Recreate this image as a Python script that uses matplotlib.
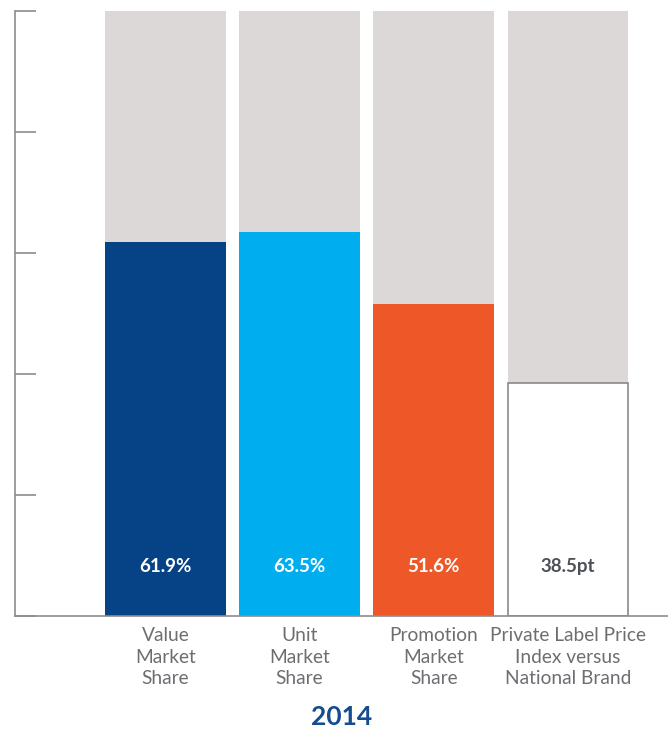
import matplotlib
matplotlib.use("Agg")
import matplotlib.pyplot as plt

categories = ["Value\nMarket\nShare", "Unit\nMarket\nShare", "Promotion\nMarket\nShare",
              "Private Label Price\nIndex versus\nNational Brand"]
values = [61.9, 63.5, 51.6, 38.5]
value_labels = ["61.9%", "63.5%", "51.6%", "38.5pt"]
total = [100, 100, 100, 100]
year_label = "2014"

colors = ["#064386", "#00adee", "#ee5828", "#ffffff"]
text_colors = ["#ffffff", "#ffffff", "#ffffff", "#4d5058"]
gray = "#dcd8d7"
axis_gray = "#8c8c8c"
label_gray = "#6d6e72"

plt.rcParams['font.family'] = ['Lato', 'DejaVu Sans']

W, H = 668, 731
fig = plt.figure(figsize=(W / 100, H / 100), dpi=100)
ax = fig.add_axes([15 / W, (H - 616) / H, (668 - 15) / W, 605 / H])

x = list(range(len(categories)))
width = 0.9
ax.bar(x, [t - v for t, v in zip(total, values)], bottom=values, width=width,
       color=gray, linewidth=0, zorder=1)
for i, (v, c) in enumerate(zip(values, colors)):
    if c == "#ffffff":
        ax.bar(i, v, width=width * 0.993, color=c, edgecolor="#808080", linewidth=1.1, zorder=2)
    else:
        ax.bar(i, v, width=width, color=c, linewidth=0, zorder=2)
    ax.text(i, 8.1, value_labels[i], ha="center", va="center", color=text_colors[i],
            fontsize=13.5, fontweight="bold", zorder=3)

ax.set_xlim(-1.121, 3.745)
ax.set_ylim(0, 100)
ax.set_yticks([0, 20, 40, 60, 80, 100])
ax.set_yticklabels([])
ax.tick_params(axis="y", direction="in", length=15, width=1.2, color=axis_gray)
ax.set_xticks(x)
ax.set_xticklabels(categories, fontsize=13.8, color=label_gray, linespacing=1.32)
ax.tick_params(axis="x", length=0, pad=8)
for s in ["top", "right"]:
    ax.spines[s].set_visible(False)
for s in ["left", "bottom"]:
    ax.spines[s].set_color(axis_gray)
    ax.spines[s].set_linewidth(1.2)
ax.set_xlabel(year_label, fontsize=19, fontweight="bold", color="#134d8f", labelpad=13)

fig.savefig("out.png", dpi=100)
